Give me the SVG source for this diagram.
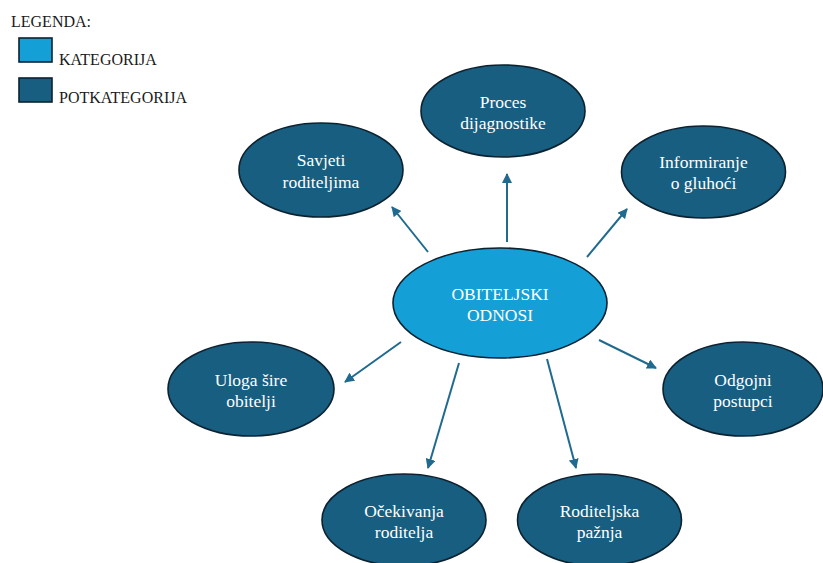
<svg xmlns="http://www.w3.org/2000/svg" width="823" height="563" viewBox="0 0 823 563">
<defs>
<style>
.sub{fill:#175e80;stroke:#0c2230;stroke-width:1.6}
.cat{fill:#149fd6;stroke:#0c2230;stroke-width:1.6}
.t{font-family:'Liberation Serif','DejaVu Serif',serif;font-size:17.5px;fill:#ffffff;text-anchor:middle}
.lg{font-family:'Liberation Serif','DejaVu Serif',serif;font-size:16px;fill:#1a1a1a}
.c{stroke:#1f6a8e;stroke-width:2;fill:none;marker-end:url(#ah)}
</style>
<marker id="ah" viewBox="0 0 10 10" refX="9" refY="5" markerWidth="5" markerHeight="5" orient="auto" markerUnits="strokeWidth">
<path d="M0,0 L10,5 L0,10 z" fill="#1f6a8e"/>
</marker>
</defs>
<rect width="823" height="563" fill="#ffffff"/>
<g id="legend">
<text class="lg" x="11" y="27">LEGENDA:</text>
<rect x="19" y="38" width="33" height="24" class="cat"/>
<text class="lg" x="59" y="65">KATEGORIJA</text>
<rect x="19" y="78" width="33" height="24" class="sub"/>
<text class="lg" x="59" y="103">POTKATEGORIJA</text>
</g>
<g id="connectors">
<line class="c" x1="507" y1="242" x2="507" y2="174"/>
<line class="c" x1="428" y1="252" x2="392" y2="207"/>
<line class="c" x1="587" y1="257" x2="627" y2="209"/>
<line class="c" x1="599" y1="340" x2="656" y2="368"/>
<line class="c" x1="401" y1="342" x2="345" y2="382"/>
<line class="c" x1="459" y1="363" x2="428" y2="468"/>
<line class="c" x1="547" y1="359" x2="576" y2="468"/>
</g>
<g id="obiteljski-odnosi">
<ellipse class="cat" cx="500" cy="303" rx="107" ry="55"/>
<text class="t" x="500" y="300">OBITELJSKI</text>
<text class="t" x="500" y="321">ODNOSI</text>
</g>
<g id="proces-dijagnostike">
<ellipse class="sub" cx="503" cy="111" rx="82" ry="46"/>
<text class="t" x="503" y="108">Proces</text>
<text class="t" x="503" y="129">dijagnostike</text>
</g>
<g id="savjeti-roditeljima">
<ellipse class="sub" cx="321" cy="170" rx="82" ry="47"/>
<text class="t" x="321" y="166">Savjeti</text>
<text class="t" x="321" y="188">roditeljima</text>
</g>
<g id="informiranje-o-gluhoci">
<ellipse class="sub" cx="703.5" cy="172" rx="82" ry="46"/>
<text class="t" x="703.5" y="168">Informiranje</text>
<text class="t" x="703.5" y="189">o gluhoći</text>
</g>
<g id="odgojni-postupci">
<ellipse class="sub" cx="743" cy="389" rx="80" ry="47"/>
<text class="t" x="743" y="386">Odgojni</text>
<text class="t" x="743" y="407">postupci</text>
</g>
<g id="uloga-sire-obitelji">
<ellipse class="sub" cx="251" cy="389" rx="83" ry="47"/>
<text class="t" x="251" y="386">Uloga šire</text>
<text class="t" x="251" y="407">obitelji</text>
</g>
<g id="ocekivanja-roditelja">
<ellipse class="sub" cx="404" cy="520" rx="82" ry="46"/>
<text class="t" x="404" y="517">Očekivanja</text>
<text class="t" x="404" y="538">roditelja</text>
</g>
<g id="roditeljska-paznja">
<ellipse class="sub" cx="599.5" cy="520" rx="82" ry="46"/>
<text class="t" x="599.5" y="517">Roditeljska</text>
<text class="t" x="599.5" y="538">pažnja</text>
</g>
</svg>
